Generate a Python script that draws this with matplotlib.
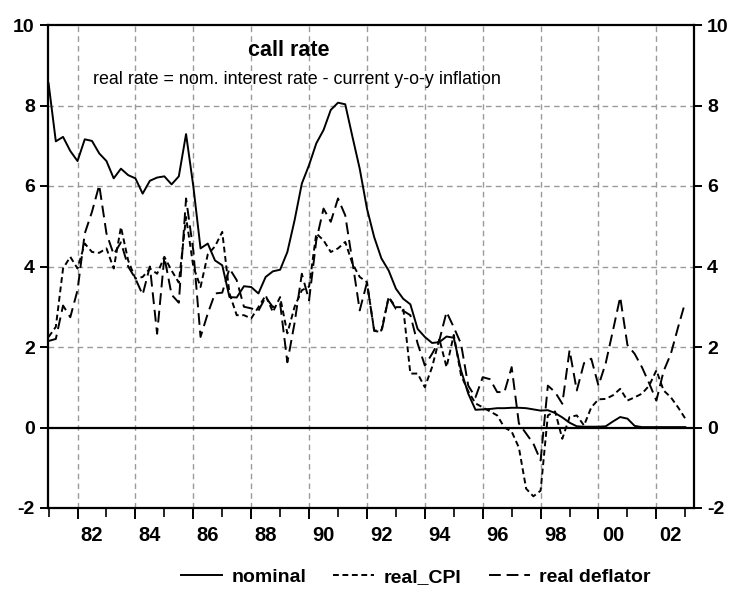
import matplotlib
matplotlib.use("Agg")
import matplotlib.pyplot as plt
import matplotlib.transforms as mtransforms
import numpy as np

plt.rcParams['font.family'] = ['Liberation Sans', 'DejaVu Sans']
plt.rcParams['lines.scale_dashes'] = False

# quarterly observations, 1981Q1 .. 2003Q1
start_year = 1981.0
nominal = [8.55, 7.11, 7.22, 6.87, 6.62, 7.16, 7.12, 6.81, 6.62, 6.19, 6.43, 6.27,
           6.19, 5.81, 6.13, 6.21, 6.24, 6.04, 6.24, 7.29, 6.00, 4.45, 4.57, 4.15,
           4.03, 3.24, 3.23, 3.51, 3.49, 3.33, 3.74, 3.88, 3.92, 4.36, 5.15, 6.06,
           6.52, 7.06, 7.39, 7.89, 8.07, 8.03, 7.22, 6.43, 5.44, 4.73, 4.20, 3.90,
           3.45, 3.20, 3.06, 2.45, 2.25, 2.10, 2.12, 2.26, 2.23, 1.42, 0.84, 0.44,
           0.45, 0.46, 0.48, 0.48, 0.49, 0.49, 0.48, 0.45, 0.42, 0.43, 0.36, 0.25,
           0.12, 0.03, 0.02, 0.02, 0.02, 0.03, 0.15, 0.26, 0.22, 0.04, 0.01, 0.01,
           0.01, 0.01, 0.01, 0.01, 0.01]
real_cpi = [2.25, 2.50, 3.95, 4.24, 3.95, 4.57, 4.36, 4.34, 4.45, 3.95, 4.98, 4.15,
            3.70, 3.74, 3.95, 3.82, 4.24, 3.90, 3.60, 5.23, 4.00, 3.49, 4.30, 4.50,
            4.86, 3.33, 2.79, 2.79, 2.71, 2.99, 3.28, 2.87, 3.24, 2.34, 3.00, 3.41,
            3.50, 4.82, 4.65, 4.36, 4.45, 4.61, 4.07, 3.74, 3.61, 2.41, 2.41, 3.24,
            2.99, 2.99, 1.34, 1.34, 1.00, 1.50, 2.20, 1.50, 2.30, 1.30, 0.90, 0.60,
            0.50, 0.40, 0.30, 0.00, -0.10, -0.50, -1.52, -1.71, -1.57, 0.30, 0.40, -0.28,
            0.26, 0.30, 0.05, 0.50, 0.70, 0.71, 0.80, 0.96, 0.67, 0.75, 0.84, 1.04,
            1.42, 0.92, 0.75, 0.50, 0.22]
real_deflator = [2.15, 2.20, 3.03, 2.74, 3.41, 4.82, 5.36, 6.02, 4.82, 4.30, 4.60, 4.00,
                 3.70, 3.30, 4.00, 2.33, 4.24, 3.30, 3.10, 5.69, 4.40, 2.25, 2.83, 3.33,
                 3.35, 3.95, 3.66, 3.00, 2.96, 2.90, 3.24, 2.99, 3.08, 1.62, 2.60, 3.82,
                 3.16, 4.65, 5.44, 5.11, 5.69, 5.27, 4.11, 2.91, 3.60, 2.40, 2.37, 3.24,
                 2.95, 2.90, 2.79, 2.09, 1.54, 1.83, 2.16, 2.87, 2.49, 2.08, 1.04, 0.75,
                 1.25, 1.20, 0.88, 0.88, 1.50, 0.10, -0.15, -0.40, -0.82, 1.04, 0.88, 0.59,
                 1.92, 0.92, 1.60, 1.71, 1.04, 1.60, 2.41, 3.24, 2.05, 1.83, 1.50, 1.10,
                 0.67, 1.40, 1.83, 2.49, 3.12]

series_labels = ['nominal', 'real_CPI', 'real deflator']
year_labels = ['82', '84', '86', '88', '90', '92', '94', '96', '98', '00', '02']
label_years = [1982, 1984, 1986, 1988, 1990, 1992, 1994, 1996, 1998, 2000, 2002]
y_ticks = [-2, 0, 2, 4, 6, 8, 10]
title = 'call rate'
subtitle = 'real rate = nom. interest rate - current y-o-y inflation'

t = start_year + 0.25 * np.arange(len(nominal))

fig = plt.figure(figsize=(7.36, 6.04), dpi=100)
ax = fig.add_axes([48/736, 1-508/604, (694-48)/736, (508-25)/604])

ax.set_xlim(1980.98, 2003.30)
ax.set_ylim(-2, 10)

# grid
for yv in [2, 4, 6, 8]:
    ax.axhline(yv, color='#9a9a9a', lw=1.0, ls=(0, (4, 3)), zorder=1)
for xv in label_years:
    ax.axvline(xv, color='#9a9a9a', lw=1.0, ls=(0, (4, 3)), zorder=1)
ax.axhline(0, color='black', lw=1.6, zorder=2)

ax.plot(t, nominal, color='black', lw=1.4, ls='-', label=series_labels[0], zorder=3)
ax.plot(t, real_cpi, color='black', lw=1.4, ls=(0, (4.2, 2.6)), label=series_labels[1], zorder=3)
ax.plot(t, real_deflator, color='black', lw=1.4, ls=(0, (8.5, 4.2)), label=series_labels[2], zorder=3)

for s in ax.spines.values():
    s.set_linewidth(1.6)

ax.set_yticks(y_ticks)
ax.set_yticklabels([str(v) for v in y_ticks], fontsize=14, fontweight='bold')
ax.tick_params(axis='y', which='both', direction='out', length=5.5, width=1.4,
               left=True, right=True, labelleft=True, labelright=True, pad=4)

ax.set_xticks(label_years)
ax.set_xticklabels([])
ax.set_xticks(list(range(1981, 2004, 2)), minor=True)
ax.tick_params(axis='x', which='major', direction='out', length=7.7, width=1.4)
ax.tick_params(axis='x', which='minor', direction='out', length=6.5, width=1.2)

trans = mtransforms.blended_transform_factory(ax.transData, ax.transAxes)
for yr, lab in zip(label_years, year_labels):
    ax.text(yr + 0.5, -0.038, lab, transform=trans, ha='center', va='top',
            fontsize=14.5, fontweight='bold')

ax.text(0.372, 0.968, title, transform=ax.transAxes, ha='center', va='top',
        fontsize=15.5, fontweight='bold')
ax.text(0.07, 0.905, subtitle, transform=ax.transAxes, ha='left', va='top',
        fontsize=12.9)

leg = fig.legend(loc='center', bbox_to_anchor=(0.565, 1-577/604), ncol=3, frameon=False,
                 prop={'weight': 'bold', 'size': 14}, handlelength=2.1,
                 columnspacing=1.4, handletextpad=0.5)

fig.savefig('out.png', dpi=100)
